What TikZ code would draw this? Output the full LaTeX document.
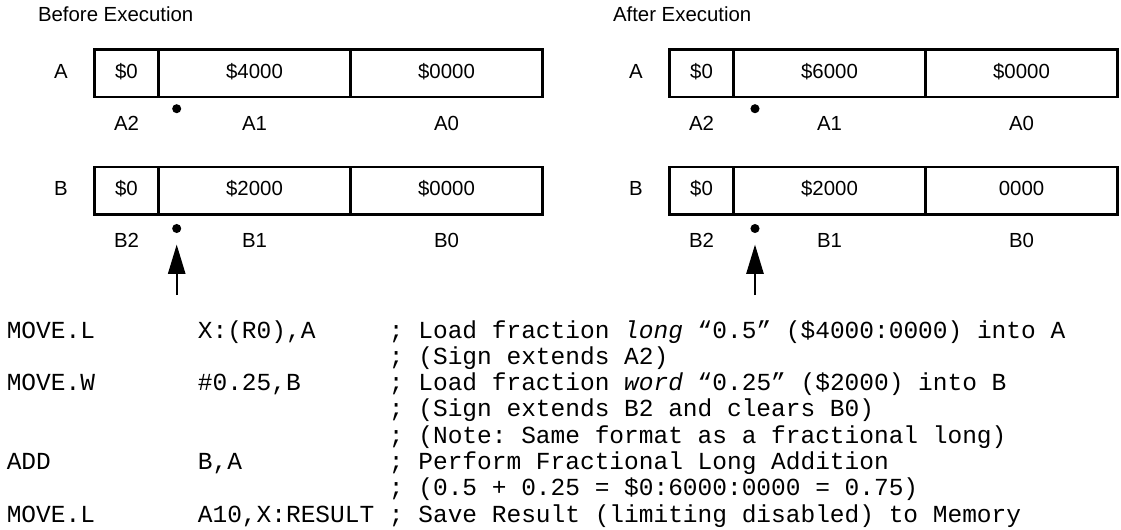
\documentclass[tikz,border=0pt]{standalone}
\usepackage{fontspec}
\setmainfont{Liberation Sans}
\setmonofont{Liberation Mono}
\usetikzlibrary{positioning, arrows.meta}

\tikzset{
  cell/.style={draw, line width=2pt, inner sep=0pt, outer sep=0pt,
    minimum height=35.6pt, text height=10.8pt, text depth=3pt,
    font=\fontsize{15.3}{18}\selectfont},
  lbl/.style={inner sep=0pt, outer sep=0pt, text height=10.8pt, text depth=3pt,
    font=\fontsize{15.3}{18}\selectfont},
  bit/.style={circle, fill, inner sep=0pt, minimum size=6.8pt},
  ptr/.style={line width=1.3pt, -{Triangle[length=22pt,width=13pt]}, shorten >=8.5pt},
  code/.style={anchor=base west, inner sep=0pt,
    font=\ttfamily\fontsize{18.375}{22}\selectfont\frenchspacing},
}

\begin{document}
\begin{tikzpicture}[x=0.75pt, y=-0.75pt]
  \useasboundingbox (0,0) rectangle (1121,529);
  % before / after panels
  \foreach \p/\dx/\px/\title/\vA/\vB in {L/0/176.7/Before/\$4000/\$0000, R/575/755/After/\$6000/0000} {
    \node[lbl, anchor=base west] (title\p) at (38+\dx,21) {\title\ Execution};
    % register A
    \node[cell, minimum width=48pt] (a2\p) at (126.5+\dx,73.25) {\$0};
    \node[cell, minimum width=144pt, right=0pt of a2\p] (a1\p) {\vA};
    \node[cell, minimum width=144pt, right=0pt of a1\p] (a0\p) {\$0000};
    \node[lbl, left=20pt of a2\p] (nameA\p) {A};
    \node[lbl, below=14pt of a2\p] (la2\p) {A2};
    \node[lbl, below=14pt of a1\p] (la1\p) {A1};
    \node[lbl, below=14pt of a0\p] (la0\p) {A0};
    % register B
    \node[cell, minimum width=48pt] (b2\p) at (126.5+\dx,190.7) {\$0};
    \node[cell, minimum width=144pt, right=0pt of b2\p] (b1\p) {\$2000};
    \node[cell, minimum width=144pt, right=0pt of b1\p] (b0\p) {\vB};
    \node[lbl, left=20pt of b2\p] (nameB\p) {B};
    \node[lbl, below=14pt of b2\p] (lb2\p) {B2};
    \node[lbl, below=14pt of b1\p] (lb1\p) {B1};
    \node[lbl, below=14pt of b0\p] (lb0\p) {B0};
    % binary point
    \node[bit] (dotA\p) at (\px,108.7) {};
    \node[bit] (dotB\p) at (\px,228.5) {};
    \coordinate (tail\p) at (\px,295);
    \draw[ptr] (tail\p) -- (dotB\p);
  }
  % program
  \node[code] (op1) at (6.5,338) {MOVE.L};
  \node[code] (arg1) at (197.6,338) {X:(R0),A};
  \node[code] (op3) at (6.5,390.7) {MOVE.W};
  \node[code] (arg3) at (197.6,390.7) {\#0.25,B};
  \node[code] (op6) at (6.5,469.7) {ADD};
  \node[code] (arg6) at (197.6,469.7) {B,A};
  \node[code] (op8) at (6.5,522.3) {MOVE.L};
  \node[code] (arg8) at (197.6,522.3) {A10,X:RESULT};
  \foreach \n/\cmt in {1/{Load fraction \textit{long} “0.5” (\$4000:0000) into A},
                       2/{(Sign extends A2)},
                       3/{Load fraction \textit{word} “0.25” (\$2000) into B},
                       4/{(Sign extends B2 and clears B0)},
                       5/{(Note: Same format as a fractional long)},
                       6/{Perform Fractional Long Addition},
                       7/{(0.5 + 0.25 = \$0:6000:0000 = 0.75)},
                       8/{Save Result (limiting disabled) to Memory}}
    \node[code] (cmt\n) at (388.7,{338+26.33*(\n-1)}) {; \cmt};
\end{tikzpicture}
\end{document}
